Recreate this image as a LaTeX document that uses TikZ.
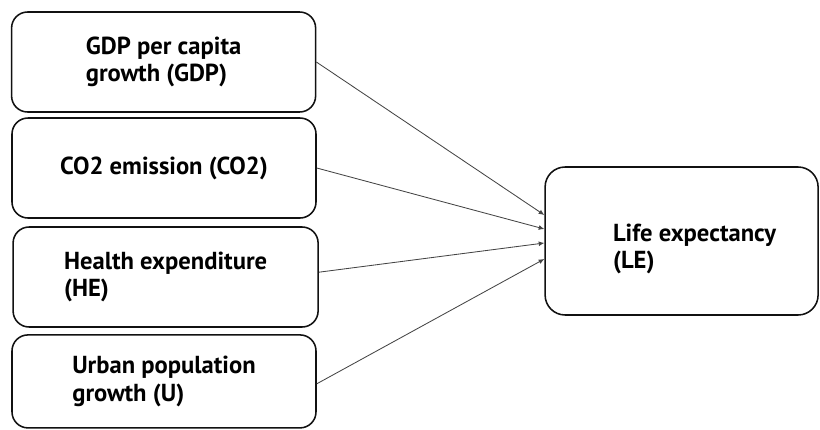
\documentclass[tikz,border=0pt]{standalone}
\usepackage{fontspec}
\setmainfont{PT Sans}
\usepackage{tikz}
\usetikzlibrary{arrows.meta, positioning, calc}
\usepackage{xcolor}
\definecolor{BoxBlack}{HTML}{111111}
\definecolor{LineGray}{HTML}{444444}
\tikzset{
    % Box styles - rounded corners
    factor/.style={
        rectangle,
        rounded corners=0.4cm,
        draw=BoxBlack,
        fill=white,
        line width=1.1pt,
        minimum width=7.6cm,
        minimum height=2.5cm,
        align=left,
        font=\fontsize{17.5}{19.5}\selectfont\bfseries
    },
    outcome/.style={
        rectangle,
        rounded corners=0.5cm,
        draw=BoxBlack,
        fill=white,
        line width=1.1pt,
        minimum width=6.825cm,
        minimum height=3.7cm,
        align=left,
        font=\fontsize{17.5}{19.5}\selectfont\bfseries
    },
    % Arrow style - straight lines only
    arrow/.style={
        -{Latex[length=4pt,width=3.5pt]},
        line width=0.6pt,
        draw=LineGray
    }
}
\begin{document}
\begin{tikzpicture}
    \useasboundingbox (0,0) rectangle (20.5,10.725);

    \node[factor] (gdp) at (4.09,9.175) {GDP per capita\\growth (GDP)};

    \node[factor] (co2) at (4.1,6.525) {CO2 emission (CO2)};

    \node[factor, minimum width=7.625cm] (he) at (4.14,3.8) {Health expenditure\\(HE)};

    \node[factor, minimum height=2.325cm] (urb) at (4.1,1.19) {Urban population\\growth (U)};

    \node[outcome] (le) at (17.04,4.7) {\begin{tabular}{@{}l@{}}\rule{0pt}{26pt}Life expectancy\\(LE)\end{tabular}\hspace*{-0.65cm}};

    \draw[arrow] (gdp.east) -- ([yshift=0.65cm]le.west);
    \draw[arrow] (co2.east) -- ([yshift=0.3cm]le.west);
    \draw[arrow] ([yshift=0.12cm]he.east) -- ([yshift=-0.05cm]le.west);
    \draw[arrow] ([yshift=-0.06cm]urb.east) -- ([yshift=-0.45cm]le.west);
\end{tikzpicture}
\end{document}
